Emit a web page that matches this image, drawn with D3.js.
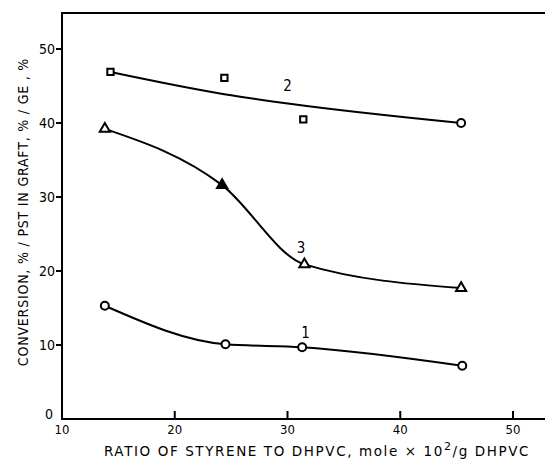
<!DOCTYPE html>
<html><head><meta charset="utf-8">
<script src="https://cdn.jsdelivr.net/npm/d3@7"></script>
<style>
html,body{margin:0;padding:0;background:#fff;}
text{font-family:"DejaVu Sans Condensed","DejaVu Sans",sans-serif;fill:#000;}
</style></head>
<body>
<svg id="chart" width="545" height="473"></svg>
<script>
// ---- data ----
const xTicks = [10, 20, 30, 40, 50];
const yTicks = [0, 10, 20, 30, 40, 50];

// Curve 1 (circles)
const s1X = [13.8, 24.5, 31.3, 45.5];
const s1Y = [15.3, 10.1, 9.7, 7.2];
// Curve 2 (squares; the fitted line does not pass all markers)
const s2X = [14.3, 24.4, 31.4, 45.4];
const s2Y = [46.9, 46.1, 40.5, 40.0];
const s2Shape = ["square", "square", "square", "circle"];
const fit2X = [14.3, 24.4, 30.2, 45.4];
const fit2Y = [46.9, 43.9, 42.6, 40.0];
// Curve 3 (triangles; second one filled)
const s3X = [13.8, 24.2, 31.5, 45.4];
const s3Y = [39.2, 31.6, 20.9, 17.7];
const s3Filled = [false, true, false, false];

const labels = [
  {t: "1", x: 31.6, y: 10.9},
  {t: "2", x: 30.0, y: 44.3},
  {t: "3", x: 31.2, y: 22.5}
];

// ---- drawing ----
const svg = d3.select("#chart");
const x = d3.scaleLinear().domain([10, 50]).range([62, 513]);
const y = d3.scaleLinear().domain([0, 50]).range([419, 49]);

const g = svg.append("g");

// frame: left, top, bottom (right edge cut off)
g.append("path")
  .attr("d", `M545,13 H${x(10)} V${y(0)} H545`)
  .attr("fill", "none").attr("stroke", "#000").attr("stroke-width", 2);

// x ticks (inward)
g.selectAll(".xt").data(xTicks.filter(d => d > 10)).enter().append("line")
  .attr("x1", d => x(d)).attr("x2", d => x(d))
  .attr("y1", y(0)).attr("y2", y(0) - 8)
  .attr("stroke", "#000").attr("stroke-width", 2);
g.selectAll(".xl").data(xTicks).enter().append("text")
  .attr("x", d => x(d)).attr("y", y(0) + 15)
  .attr("text-anchor", "middle").attr("font-size", 13)
  .text(d => d);

// y ticks (outward)
g.selectAll(".yt").data(yTicks.filter(d => d > 0)).enter().append("line")
  .attr("x1", x(10)).attr("x2", x(10) - 6)
  .attr("y1", d => y(d)).attr("y2", d => y(d))
  .attr("stroke", "#000").attr("stroke-width", 2);
g.selectAll(".yl").data(yTicks).enter().append("text")
  .attr("x", d => d === 0 ? x(10) - 9 : x(10) - 7).attr("y", d => y(d) + (d === 0 ? 0 : 5))
  .attr("text-anchor", "end").attr("font-size", 14)
  .text(d => d);

// axis titles
g.append("text").attr("x", 317).attr("y", 456).attr("text-anchor", "middle")
  .attr("font-size", 13.5).attr("letter-spacing", 1.6)
  .style("font-family", "'DejaVu Sans',sans-serif")
  .html('RATIO OF STYRENE TO DHPVC, mole \u00d7 10<tspan dy="-6" font-size="11">2</tspan><tspan dy="6">/g DHPVC</tspan>');
g.append("text").attr("transform", "translate(28,212) rotate(-90)")
  .attr("text-anchor", "middle").attr("font-size", 14).attr("letter-spacing", 0.8)
  .text("CONVERSION, % / PST IN GRAFT, % / GE , %");

const line = d3.line().x(d => x(d[0])).y(d => y(d[1])).curve(d3.curveMonotoneX);
const lineStyle = sel => sel.attr("fill", "none").attr("stroke", "#000").attr("stroke-width", 2);

g.append("path").datum(d3.zip(s1X, s1Y)).attr("d", line).call(lineStyle);
g.append("path").datum(d3.zip(fit2X, fit2Y)).attr("d", line).call(lineStyle);
g.append("path").datum(d3.zip(s3X, s3Y)).attr("d", line).call(lineStyle);

// markers
g.selectAll(".m1").data(d3.zip(s1X, s1Y)).enter().append("circle")
  .attr("cx", d => x(d[0])).attr("cy", d => y(d[1])).attr("r", 4)
  .attr("fill", "#fff").attr("stroke", "#000").attr("stroke-width", 2);

g.selectAll(".m2").data(d3.zip(s2X, s2Y, s2Shape)).enter().append("path")
  .attr("transform", d => `translate(${x(d[0])},${y(d[1])})`)
  .attr("d", d => d[2] === "square" ? d3.symbol(d3.symbolSquare, 40)() : d3.symbol(d3.symbolCircle, 50)())
  .attr("fill", "#fff").attr("stroke", "#000").attr("stroke-width", 2);

g.selectAll(".m3").data(d3.zip(s3X, s3Y, s3Filled)).enter().append("path")
  .attr("transform", d => `translate(${x(d[0])},${y(d[1])})`)
  .attr("d", d3.symbol(d3.symbolTriangle, 45)())
  .attr("fill", d => d[2] ? "#000" : "#fff").attr("stroke", "#000").attr("stroke-width", 2);

// curve labels
g.selectAll(".lab").data(labels).enter().append("text")
  .attr("x", d => x(d.x)).attr("y", d => y(d.y))
  .attr("text-anchor", "middle").attr("font-size", 15)
  .text(d => d.t);
</script>
</body></html>
